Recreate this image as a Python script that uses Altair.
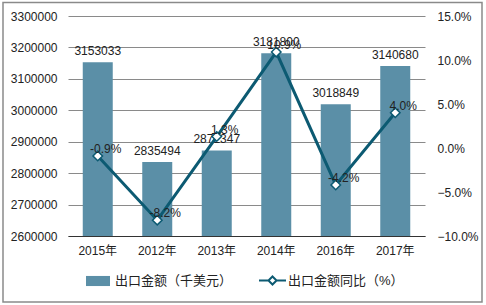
import altair as alt
import pandas as pd

years = ["2015年", "2012年", "2013年", "2014年", "2016年", "2017年"]
amounts = [3153033, 2835494, 2872347, 3181800, 3018849, 3140680]
growth = [-0.9, -8.2, 1.3, 10.9, -4.2, 4.0]
bar_name = "出口金额（千美元）"
line_name = "出口金额同比（%）"
axis_min = 2600000
axis_max = 3300000

df = pd.DataFrame({
    "year": years,
    "amount": amounts,
    "growth": growth,
    "amount_label": [str(v) for v in amounts],
    "growth_label": [f"{v:.1f}%" for v in growth],
    "s1": [bar_name] * len(years),
    "s2": [line_name] * len(years),
})

FONT = "'Liberation Sans', 'Noto Sans CJK SC', sans-serif"
BAR_COLOR = "#5B8FA7"
LINE_COLOR = "#0C5A72"

W, H = 357, 220

xenc = alt.X("year:N", sort=years, title=None,
             scale=alt.Scale(paddingInner=0.5, paddingOuter=0.25),
             axis=alt.Axis(labelAngle=0, ticks=False, domain=True, domainColor="#333333",
                           labelPadding=9, labelFontSize=12, labelColor="#222222", grid=False))

yleft = alt.Y("amount:Q", title=None,
              scale=alt.Scale(domain=[axis_min, axis_max], zero=False, nice=False),
              axis=alt.Axis(values=list(range(axis_min, axis_max + 1, 100000)), format="d",
                            grid=True, gridColor="#8a8a8a", gridWidth=1, domain=False, ticks=False,
                            labelOverlap=False,
                            labelPadding=11, labelFontSize=12, labelColor="#222222"))

yright = alt.Y("growth:Q", title=None,
               scale=alt.Scale(domain=[-10, 15], nice=False),
               axis=alt.Axis(orient="right", values=[-10, -5, 0, 5, 10, 15],
                             labelExpr="format(datum.value, '.1f') + '%'",
                             grid=False, domain=False, ticks=False, labelPadding=12,
                             labelOverlap=False,
                             labelFontSize=12, labelColor="#222222"))

base = alt.Chart(df)

bars = base.mark_bar(size=30).encode(
    x=xenc,
    y=yleft,
    y2=alt.Y2(datum=axis_min),
    color=alt.Color("s1:N", scale=alt.Scale(range=[BAR_COLOR]),
                    legend=alt.Legend(title=None, orient="none", legendX=18, legendY=253,
                                      symbolType="M-1,-0.42H1V0.42H-1Z", symbolSize=576,
                                      symbolStrokeWidth=0, labelOffset=5, labelFontSize=13,
                                      labelColor="#222222", padding=0, labelFont=FONT)),
)

bar_text = base.mark_text(baseline="bottom", dy=-4, fontSize=12, color="#222222").encode(
    x=xenc,
    y=yleft,
    text="amount_label:N",
)

left = alt.layer(bars, bar_text)

line = base.mark_line(strokeWidth=3).encode(
    x=xenc,
    y=yright,
    stroke=alt.Stroke("s2:N", scale=alt.Scale(range=[LINE_COLOR]),
                      legend=alt.Legend(title=None, orient="none", legendX=190, legendY=250,
                                        symbolType="M-1,0H-0.3M0.3,0H1M0,-0.3L0.3,0L0,0.3L-0.3,0Z",
                                        symbolSize=729, symbolFillColor="white",
                                        symbolStrokeWidth=2, labelOffset=1, labelFontSize=13,
                                        labelColor="#222222", padding=0, labelFont=FONT)),
)

points = base.mark_point(shape="diamond", filled=True, fill="white", stroke=LINE_COLOR,
                         strokeWidth=1.5, size=90, opacity=1).encode(
    x=xenc,
    y=yright,
)

pct_text = base.mark_text(dx=8, dy=-7, fontSize=12, color="#222222").encode(
    x=xenc,
    y=yright,
    text="growth_label:N",
)

right = alt.layer(line, points, pct_text)

border = alt.Chart(pd.DataFrame({"k": [0]})).mark_rect(
    fill=None, stroke="#8a8a8a", strokeWidth=1.5
).encode(
    x=alt.value(-65), x2=alt.value(414), y=alt.value(-13.5), y2=alt.value(286)
)

chart = alt.layer(border, left, right).resolve_scale(
    y="independent", color="independent", stroke="independent"
).properties(
    width=W, height=H,
    autosize=alt.AutoSizeParams(type="none"),
    padding={"left": 68, "top": 16, "right": 61, "bottom": 69},
).configure(font=FONT).configure_view(stroke=None)

chart.save("out.html", embed_options={"renderer": "svg", "actions": False})
